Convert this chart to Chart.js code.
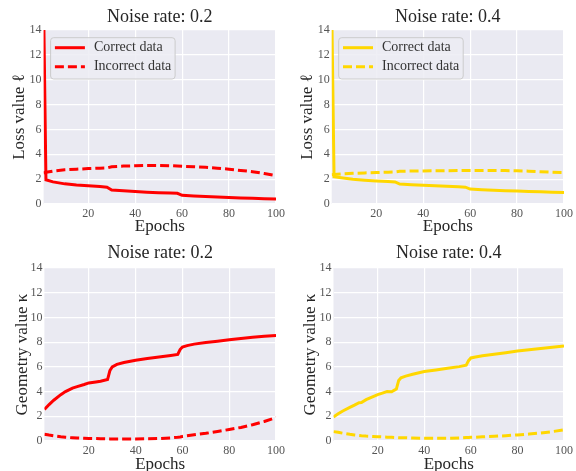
<!DOCTYPE html>
<html><head><meta charset="utf-8">
<script src="https://cdn.jsdelivr.net/npm/chart.js@4.4.1/dist/chart.umd.min.js"></script>
<style>
html,body{margin:0;padding:0;background:#fff;width:576px;height:471px;overflow:hidden;}
canvas{position:absolute;display:block;}
</style></head><body>
<canvas id="c1" width="288" height="240" style="left:0;top:0"></canvas>
<canvas id="c2" width="288" height="240" style="left:288px;top:0"></canvas>
<canvas id="c3" width="288" height="240" style="left:0;top:235px"></canvas>
<canvas id="c4" width="288" height="240" style="left:288px;top:235px"></canvas>
<script>
// ---------- data ----------
const epochsLoss = [1,2,5,10,15,20,25,28,30,35,40,45,50,55,58,60,65,70,75,80,85,90,95,100];
const lossCorrect02   = [16,1.95,1.78,1.62,1.52,1.46,1.40,1.35,1.13,1.06,1.00,0.95,0.91,0.88,0.86,0.70,0.64,0.60,0.56,0.52,0.49,0.46,0.43,0.41];
const lossIncorrect02 = [2.50,2.55,2.65,2.75,2.80,2.85,2.88,2.90,3.00,3.05,3.08,3.10,3.10,3.08,3.05,3.03,3.00,2.95,2.88,2.80,2.70,2.60,2.45,2.28];
const lossCorrect04   = [16,2.20,2.12,2.00,1.92,1.86,1.81,1.78,1.60,1.55,1.51,1.47,1.43,1.38,1.35,1.20,1.15,1.10,1.07,1.04,1.01,0.98,0.95,0.92];
const lossIncorrect04 = [2.35,2.38,2.42,2.47,2.50,2.53,2.56,2.58,2.63,2.65,2.66,2.67,2.68,2.69,2.70,2.70,2.70,2.70,2.69,2.67,2.64,2.60,2.56,2.52];

const epochsGeo02 = [1,3,5,8,10,13,15,18,20,23,25,28,29,30,32,35,40,45,50,55,58,59,60,62,65,70,75,80,85,90,95,100];
const geoCorrect02   = [2.55,2.95,3.30,3.75,4.00,4.28,4.40,4.57,4.70,4.78,4.84,4.97,5.70,6.00,6.20,6.35,6.54,6.68,6.80,6.92,7.00,7.40,7.60,7.72,7.84,7.97,8.08,8.20,8.30,8.40,8.48,8.54];
const geoIncorrect02 = [0.55,0.48,0.42,0.34,0.30,0.26,0.24,0.22,0.21,0.20,0.19,0.18,0.17,0.17,0.16,0.16,0.16,0.18,0.20,0.25,0.30,0.33,0.37,0.42,0.50,0.62,0.77,0.93,1.10,1.32,1.58,1.90];

const epochsGeo04 = [1,3,5,8,10,12,13,15,18,20,22,24,26,27,28,29,30,32,35,40,45,50,55,58,59,60,62,65,70,75,80,85,90,95,100];
const geoCorrect04   = [1.95,2.20,2.43,2.72,2.90,3.10,3.12,3.35,3.60,3.76,3.88,4.00,3.98,4.10,4.20,4.90,5.12,5.25,5.40,5.62,5.75,5.88,6.02,6.14,6.50,6.72,6.80,6.90,7.02,7.15,7.28,7.38,7.48,7.58,7.68];
const geoIncorrect04 = [0.76,0.70,0.63,0.54,0.49,0.45,0.43,0.40,0.37,0.35,0.33,0.31,0.30,0.29,0.28,0.27,0.27,0.26,0.24,0.22,0.22,0.22,0.25,0.28,0.29,0.30,0.31,0.34,0.38,0.43,0.49,0.56,0.65,0.76,0.90];

const xTicks = [20,40,60,80,100];
const yTicks = [0,2,4,6,8,10,12,14];
const seriesLabels = ['Correct data','Incorrect data'];
const panelTitles = ['Noise rate: 0.2','Noise rate: 0.4'];
const xLabel = 'Epochs';
const yLabels = ['Loss value \u2113','Geometry value \u03BA'];

// ---------- drawing ----------
const SERIF = "'Liberation Serif', 'DejaVu Serif', serif";
const RED = '#ff0000', GOLD = '#ffd700';

const bgPlugin = {
  id:'plotBg',
  beforeDraw(chart){
    const {ctx, chartArea:a} = chart;
    ctx.save(); ctx.fillStyle = '#eaeaf2';
    ctx.fillRect(a.left, a.top, a.right-a.left, a.bottom-a.top);
    ctx.restore();
  }
};

const legendPlugin = {
  id:'innerLegend',
  afterDatasetsDraw(chart, args, opts){
    if(!opts.show) return;
    const {ctx, chartArea:a} = chart;
    const x0 = a.left + 7, y0 = a.top + 7.7, w = 124.5, h = 41.3, r = 3;
    ctx.save();
    ctx.beginPath();
    ctx.moveTo(x0+r, y0); ctx.lineTo(x0+w-r, y0); ctx.quadraticCurveTo(x0+w, y0, x0+w, y0+r);
    ctx.lineTo(x0+w, y0+h-r); ctx.quadraticCurveTo(x0+w, y0+h, x0+w-r, y0+h);
    ctx.lineTo(x0+r, y0+h); ctx.quadraticCurveTo(x0, y0+h, x0, y0+h-r);
    ctx.lineTo(x0, y0+r); ctx.quadraticCurveTo(x0, y0, x0+r, y0);
    ctx.closePath();
    ctx.fillStyle = 'rgba(236,236,243,0.85)'; ctx.fill();
    ctx.strokeStyle = '#cccccc'; ctx.lineWidth = 1; ctx.stroke();
    chart.data.datasets.forEach((ds, i) => {
      const y = y0 + 10 + i*19;
      ctx.beginPath();
      ctx.setLineDash(ds.borderDash || []);
      ctx.strokeStyle = ds.borderColor; ctx.lineWidth = ds.borderWidth;
      ctx.moveTo(x0+4.3, y); ctx.lineTo(x0+34.3, y); ctx.stroke();
      ctx.setLineDash([]);
      ctx.fillStyle = '#333333';
      ctx.font = '14px ' + SERIF;
      ctx.textBaseline = 'middle'; ctx.textAlign = 'left';
      ctx.fillText(ds.label, x0+43.3, y);
    });
    ctx.restore();
  }
};

function makeChart(id, o){
  const pts = (xs, ys) => xs.map((x,i) => ({x:x, y:ys[i]}));
  new Chart(document.getElementById(id), {
    type:'line',
    data:{datasets:[
      {label:seriesLabels[0], data:pts(o.epochs, o.correct), borderColor:o.color, borderWidth:3, pointRadius:0, tension:0, fill:false},
      {label:seriesLabels[1], data:pts(o.epochs, o.incorrect), borderColor:o.color, borderWidth:3, borderDash:[9,4], pointRadius:0, tension:0, fill:false}
    ]},
    options:{
      responsive:false, animation:false, events:[],
      layout:{padding:{left:0, top:0, right:o.W - o.R, bottom:0}},
      plugins:{
        legend:{display:false}, tooltip:{enabled:false},
        title:{display:true, text:o.title, fullSize:false, color:'#262626',
               font:{family:SERIF, size:18, weight:'normal', lineHeight:1.2},
               padding:{top:o.tTop, bottom:o.tBot}},
        innerLegend:{show:o.legend}
      },
      scales:{
        x:{type:'linear', min:1, max:100,
           afterBuildTicks:s => { s.ticks = xTicks.map(v => ({value:v})); },
           afterFit:s => { s.height = o.H - o.B; },
           grid:{color:'#ffffff', lineWidth:1.2, drawTicks:false},
           border:{display:false},
           ticks:{padding:3, color:'#555555', font:{family:SERIF, size:12}, maxRotation:0, autoSkip:false},
           title:{display:true, text:xLabel, color:'#262626', font:{family:SERIF, size:17, lineHeight:1.2}, padding:{top:0, bottom:o.xPad}}
        },
        y:{type:'linear', min:0, max:14,
           afterBuildTicks:s => { s.ticks = yTicks.map(v => ({value:v})); },
           afterFit:s => { s.width = o.L; },
           grid:{color:'#ffffff', lineWidth:1.2, drawTicks:false},
           border:{display:false},
           ticks:{padding:2, color:'#555555', font:{family:SERIF, size:12}, autoSkip:false},
           title:{display:true, text:o.yLabel, color:'#262626', font:{family:SERIF, size:17, lineHeight:1.2}, padding:{top:o.yPad, bottom:0}}
        }
      }
    },
    plugins:[bgPlugin, legendPlugin]
  });
}

makeChart('c1', {title:panelTitles[0], yLabel:yLabels[0], color:RED, epochs:epochsLoss, correct:lossCorrect02, incorrect:lossIncorrect02, legend:true,
  W:288, H:240, L:43.6, R:276, B:204, tTop:6.2, tBot:2.2, xPad:3.3, yPad:9});
makeChart('c2', {title:panelTitles[1], yLabel:yLabels[0], color:GOLD, epochs:epochsLoss, correct:lossCorrect04, incorrect:lossIncorrect04, legend:true,
  W:288, H:240, L:43.7, R:276.4, B:204, tTop:6.2, tBot:2.2, xPad:3.3, yPad:9});
makeChart('c3', {title:panelTitles[0], yLabel:yLabels[1], color:RED, epochs:epochsGeo02, correct:geoCorrect02, incorrect:geoIncorrect02, legend:false,
  W:288, H:240, L:44.4, R:278.3, B:206, tTop:7, tBot:4.4, xPad:0.5, yPad:12});
makeChart('c4', {title:panelTitles[1], yLabel:yLabels[1], color:GOLD, epochs:epochsGeo04, correct:geoCorrect04, incorrect:geoIncorrect04, legend:false,
  W:288, H:240, L:45.5, R:279, B:206, tTop:7, tBot:4.4, xPad:0.5, yPad:12});
</script>
</body></html>
